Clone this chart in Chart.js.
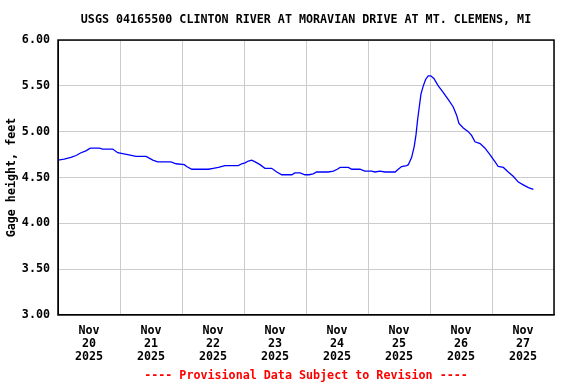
<!DOCTYPE html>
<html>
<head>
<meta charset="utf-8">
<script src="https://cdn.jsdelivr.net/npm/chart.js@4/dist/chart.umd.min.js"></script>
<style>
  html, body { margin: 0; padding: 0; background: #fff; }
  #wrap { width: 576px; height: 384px; }
</style>
</head>
<body>
<div id="wrap"><canvas id="gage"></canvas></div>
<script>
"use strict";

/* Data: hours since Nov 20 2025 00:00, gage height in feet */
const HOURS = [
  0, 2.4, 5.0, 7.0, 8.9, 10.8, 12.5, 16.0, 17.3, 21.2, 23.1, 25.0, 27.0, 30.2,
  34.1, 36.7, 38.6, 43.7, 45.7, 48.9, 49.8, 51.8, 58.2, 60.1, 62.1, 64.6, 69.8,
  71.1, 72.4, 73.7, 75.0, 76.3, 78.2, 80.1, 82.7, 84.7, 86.6, 90.5, 91.7, 93.7,
  95.6, 97.2, 98.8, 100.1, 104.6, 106.6, 108.1, 109.2, 112.4, 113.7, 116.9,
  118.8, 121.4, 122.7, 124.6, 126.6, 130.5, 131.7, 133.0, 135.0, 135.6, 136.9,
  137.9, 138.6, 139.2, 139.9, 140.5, 141.4, 142.3, 143.3, 144.3, 145.5, 147.2,
  149.1, 151.1, 153.0, 154.3, 155.2, 156.9, 158.8, 160.1, 161.4, 163.4, 165.3,
  167.2, 169.2, 170.4, 172.4, 174.3, 176.3, 178.2, 180.1, 182.1, 184.0
];
const GAGE_FT = [
  4.69, 4.70, 4.72, 4.74, 4.77, 4.79, 4.82, 4.82, 4.81, 4.81, 4.77, 4.76, 4.75, 4.73,
  4.73, 4.69, 4.67, 4.67, 4.65, 4.64, 4.62, 4.59, 4.59, 4.60, 4.61, 4.63, 4.63,
  4.65, 4.66, 4.68, 4.69, 4.67, 4.64, 4.60, 4.60, 4.56, 4.53, 4.53, 4.55, 4.55,
  4.53, 4.53, 4.54, 4.56, 4.56, 4.57, 4.59, 4.61, 4.61, 4.59, 4.59,
  4.57, 4.57, 4.56, 4.57, 4.56, 4.56, 4.59, 4.62, 4.63, 4.64, 4.72,
  4.84, 4.97, 5.13, 5.28, 5.41, 5.50, 5.57, 5.61, 5.61, 5.58, 5.50,
  5.43, 5.35, 5.27, 5.18, 5.09, 5.04, 5.00, 4.96, 4.89, 4.87, 4.82,
  4.75, 4.67, 4.62, 4.61, 4.56, 4.51, 4.45, 4.42, 4.39, 4.37
];

const MONTH = "Nov";
const DAYS = ["20", "21", "22", "23", "24", "25", "26", "27"];
const YEAR = "2025";
const Y_MIN = 3.0;
const Y_MAX = 6.0;

const TITLE = "USGS 04165500 CLINTON RIVER AT MORAVIAN DRIVE AT MT. CLEMENS, MI";
const Y_TITLE = "Gage height, feet";
const FOOTNOTE = "---- Provisional Data Subject to Revision ----";

const FONT = { family: "'DejaVu Sans Mono', monospace", size: 11.7, weight: "bold" };
const GRID = "#cccccc";

/* black frame around the plot area */
const framePlugin = {
  id: "frame",
  afterDatasetsDraw(chart) {
    const { ctx, chartArea: a } = chart;
    ctx.save();
    ctx.strokeStyle = "#000";
    ctx.lineWidth = 1.5;
    ctx.strokeRect(a.left, a.top, a.right - a.left, a.bottom - a.top);
    ctx.restore();
  },
};

const points = HOURS.map((h, i) => ({ x: h, y: GAGE_FT[i] }));

new Chart(document.getElementById("gage"), {
  type: "line",
  data: {
    datasets: [{
      data: points,
      borderColor: "#0000ff",
      borderWidth: 1.3,
      pointRadius: 0,
      tension: 0,
      fill: false,
    }],
  },
  options: {
    responsive: true,
    maintainAspectRatio: false,
    animation: false,
    layout: { padding: { left: 0, right: 22, top: 0, bottom: 0 } },
    plugins: {
      legend: { display: false },
      tooltip: { enabled: false },
      title: {
        display: true,
        fullSize: false,
        text: TITLE,
        color: "#000",
        font: FONT,
        padding: { top: 13, bottom: 13 },
      },
      subtitle: {
        display: true,
        fullSize: false,
        position: "bottom",
        text: FOOTNOTE,
        color: "#ff0000",
        font: FONT,
        padding: { top: 0, bottom: 1 },
      },
    },
    scales: {
      x: {
        type: "linear",
        min: 0,
        max: DAYS.length * 24,
        afterBuildTicks(scale) {
          const ticks = [];
          for (let h = 0; h <= DAYS.length * 24; h += 12) ticks.push({ value: h });
          scale.ticks = ticks;
        },
        afterFit(scale) { scale.height = 54; },
        ticks: {
          autoSkip: false,
          maxRotation: 0,
          color: "#000",
          font: { ...FONT, lineHeight: 1.11 },
          padding: 10,
          callback: (v) => (v % 24 === 12 ? [MONTH, DAYS[(v - 12) / 24], YEAR] : ""),
        },
        grid: {
          drawTicks: false,
          color: (ctx) => (ctx.tick && ctx.tick.value % 24 === 0 ? GRID : "rgba(0,0,0,0)"),
        },
        border: { color: "#000", width: 1 },
      },
      y: {
        min: Y_MIN,
        max: Y_MAX,
        afterFit(scale) { scale.width = 58; },
        ticks: {
          stepSize: 0.5,
          color: "#000",
          font: FONT,
          padding: 8,
          callback: (v) => Number(v).toFixed(2),
        },
        grid: { drawTicks: false, color: GRID },
        border: { color: "#000", width: 1 },
        title: {
          display: true,
          text: Y_TITLE,
          color: "#000",
          font: FONT,
          padding: { top: 5, bottom: 0 },
        },
      },
    },
  },
  plugins: [framePlugin],
});
</script>
</body>
</html>
